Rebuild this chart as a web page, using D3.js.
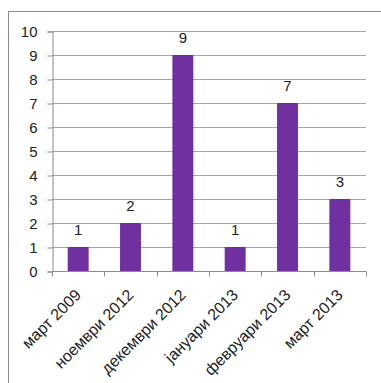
<!DOCTYPE html>
<html>
<head>
<meta charset="utf-8">
<script src="https://cdn.jsdelivr.net/npm/d3@7"></script>
<style>
  body { margin: 0; background: #fff; }
  svg { display: block; font-family: "Liberation Sans", Arial, sans-serif; }
</style>
</head>
<body>
<div id="chart"></div>
<script>
// data
var categories = ["март 2009", "ноември 2012", "декември 2012", "јануари 2013", "февруари 2013", "март 2013"];
var counts = [1, 2, 9, 1, 7, 3];
var yTicks = [0, 1, 2, 3, 4, 5, 6, 7, 8, 9, 10];

var width = 381, height = 383;
var plot = { left: 52, right: 366, top: 31, bottom: 271 };

var svg = d3.select("#chart").append("svg")
    .attr("width", width)
    .attr("height", height);

// outer chart frame (clipped at right/bottom like the reference)
svg.append("rect")
    .attr("x", 8.5)
    .attr("y", 11.5)
    .attr("width", width)
    .attr("height", height)
    .attr("fill", "none")
    .attr("stroke", "#8c8c8c");

var x = d3.scaleBand()
    .domain(categories)
    .range([plot.left, plot.right])
    .paddingInner(0.6)
    .paddingOuter(0.3);

var y = d3.scaleLinear()
    .domain([0, 10])
    .range([plot.bottom, plot.top]);

// gridlines
svg.append("g")
    .selectAll("line")
    .data(yTicks.filter(function(d) { return d > 0; }))
    .join("line")
    .attr("x1", plot.left)
    .attr("x2", plot.right)
    .attr("y1", function(d) { return Math.round(y(d)) + 0.5; })
    .attr("y2", function(d) { return Math.round(y(d)) + 0.5; })
    .attr("stroke", "#a6a6a6");

// y axis
var yAxis = svg.append("g")
    .attr("transform", "translate(" + (plot.left + 0.5) + ",0.5)")
    .call(d3.axisLeft(y).tickValues(yTicks).tickSize(5).tickPadding(10).tickFormat(d3.format("d")));
yAxis.select(".domain").attr("stroke", "#8c8c8c");
yAxis.selectAll(".tick line").attr("stroke", "#8c8c8c");
yAxis.selectAll(".tick text")
    .attr("fill", "#222")
    .attr("font-size", "15px")
    .attr("font-family", "Liberation Sans, Arial, sans-serif");

// x axis with ticks between categories
var xAxisG = svg.append("g")
    .attr("transform", "translate(0," + (plot.bottom + 0.5) + ")");
xAxisG.append("line")
    .attr("x1", plot.left)
    .attr("x2", plot.right)
    .attr("stroke", "#8c8c8c");
var step = x.step();
xAxisG.selectAll("line.tk")
    .data(d3.range(categories.length + 1))
    .join("line")
    .attr("class", "tk")
    .attr("x1", function(i) { return Math.round(plot.left + i * step) + 0.5; })
    .attr("x2", function(i) { return Math.round(plot.left + i * step) + 0.5; })
    .attr("y1", 0)
    .attr("y2", 5)
    .attr("stroke", "#8c8c8c");

// category labels, rotated
svg.append("g")
    .selectAll("text")
    .data(categories)
    .join("text")
    .attr("transform", function(d) {
        var cx = x(d) + x.bandwidth() / 2;
        return "translate(" + (cx + 4) + "," + (plot.bottom + 25) + ") rotate(-45)";
    })
    .attr("text-anchor", "end")
    .attr("font-size", "16px")
    .attr("fill", "#222")
    .text(function(d) { return d; });

// bars
svg.append("g")
    .selectAll("rect")
    .data(counts)
    .join("rect")
    .attr("x", function(d, i) { return x(categories[i]); })
    .attr("y", function(d) { return y(d); })
    .attr("width", x.bandwidth())
    .attr("height", function(d) { return y(0) - y(d); })
    .attr("fill", "#7030a0");

// value labels
svg.append("g")
    .selectAll("text")
    .data(counts)
    .join("text")
    .attr("x", function(d, i) { return x(categories[i]) + x.bandwidth() / 2; })
    .attr("y", function(d) { return y(d) - 12; })
    .attr("text-anchor", "middle")
    .attr("font-size", "15px")
    .attr("fill", "#222")
    .text(function(d) { return d; });
</script>
</body>
</html>
